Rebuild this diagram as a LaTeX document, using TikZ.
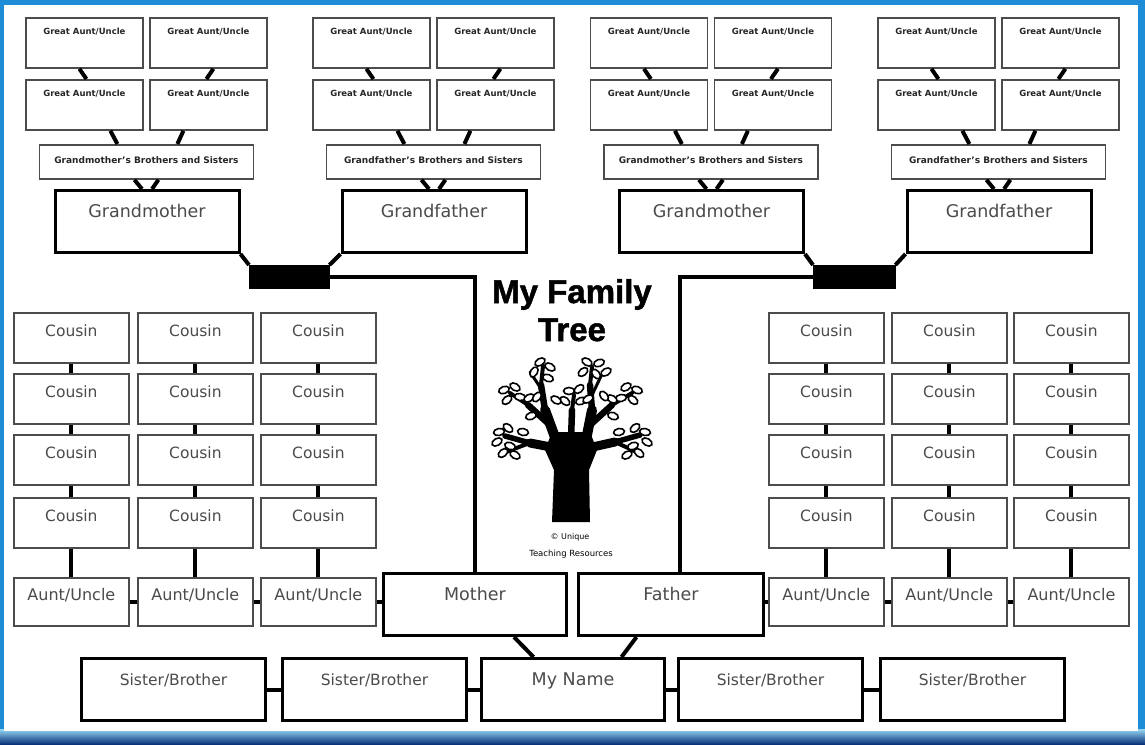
\documentclass[tikz,border=0pt]{standalone}
\usepackage{fontspec}
\setmainfont{DejaVu Sans}
\newfontfamily\titlefont{Liberation Sans}[BoldFeatures={FakeBold=1.5}]
\definecolor{frameblue}{RGB}{30,140,215}
\definecolor{framelight}{RGB}{150,215,245}
\definecolor{framedark}{RGB}{10,50,120}
\definecolor{txtgray}{RGB}{75,75,75}
\tikzset{
  boxbase/.style={inner xsep=0pt, inner ysep=0pt, anchor=north west, fill=white, align=center},
  bigbox/.style={boxbase, draw=black, line width=3pt, text height=27pt, text depth=35pt,
    font=\fontsize{17.5}{20}\selectfont, text=txtgray},
  sibbox/.style={bigbox, font=\fontsize{15.5}{18}\selectfont},
  greatbox/.style={boxbase, draw=black!70, line width=1.8pt, minimum width=117pt,
    text height=17pt, text depth=33pt, font=\bfseries\fontsize{8.5}{10}\selectfont, text=black!85},
  bsbox/.style={boxbase, draw=black!70, line width=1.8pt, minimum width=214pt,
    text height=19pt, text depth=15pt, font=\bfseries\fontsize{9}{10}\selectfont, text=black!85},
  cousinbox/.style={boxbase, draw=black!70, line width=1.8pt, minimum width=115pt,
    text height=24pt, text depth=26pt, font=\fontsize{15.5}{18}\selectfont, text=txtgray},
  auntbox/.style={cousinbox, text height=23pt, text depth=25pt, font=\fontsize{16}{18}\selectfont},
  bar/.style={fill=black, draw=black, inner sep=0pt, anchor=north west},
  conn/.style={draw=black, line width=4pt},
  branch/.style={draw=black, line cap=round, line join=round},
  leaf/.style={draw=black, fill=white, line width=1.6pt},
}
\begin{document}
\begin{tikzpicture}[x=1pt, y=-1pt]
\useasboundingbox (0,0) rectangle (1145,744);
% frame
\fill[frameblue] (0,0) rectangle (1145,744);
\shade[top color=framelight, bottom color=framedark] (0,729) rectangle (1145,744);
\fill[white] (4,5) rectangle (1138,731);

% top groups
\foreach \c/\g/\who in {145.5/a/mother, 432.5/b/father, 710/c/mother, 997.5/d/father}{
  \node[greatbox] (ga1\g) at (\c-120.5,17) {Great Aunt/Uncle};
  \node[greatbox] (ga2\g) at (\c+3.5,17) {Great Aunt/Uncle};
  \node[greatbox] (ga3\g) at (\c-120.5,79) {Great Aunt/Uncle};
  \node[greatbox] (ga4\g) at (\c+3.5,79) {Great Aunt/Uncle};
  \node[bsbox] (bs\g) at (\c-107,144) {Grand\who's Brothers and Sisters};
  \node[bigbox, minimum width=184pt] (gp\g) at (\c-92,189) {Grand\who};
  \draw[conn] ([xshift=-5pt]ga1\g.south) -- ([xshift=2pt]ga3\g.north);
  \draw[conn] ([xshift=5pt]ga2\g.south) -- ([xshift=-2pt]ga4\g.north);
  \draw[conn] ([xshift=26pt]ga3\g.south) -- ([xshift=-29pt]bs\g.north);
  \draw[conn] ([xshift=-25pt]ga4\g.south) -- ([xshift=31pt]bs\g.north);
  \draw[conn] ([xshift=-12pt]bs\g.south) -- ([xshift=-5pt]gp\g.north);
  \draw[conn] ([xshift=12pt]bs\g.south) -- ([xshift=5pt]gp\g.north);
}

% bars
\node[bar, minimum width=80pt, minimum height=23pt] (barL) at (249,265) {};
\node[bar, minimum width=82pt, minimum height=23pt] (barR) at (813,265) {};
\draw[conn] (gpa.south east) -- (barL.north west);
\draw[conn] (gpb.south west) -- (barL.north east);
\draw[conn] (gpc.south east) -- (barR.north west);
\draw[conn] (gpd.south west) -- (barR.north east);

% parents
\node[bigbox, minimum width=183pt] (mother) at (382,572) {Mother};
\node[bigbox, minimum width=185pt] (father) at (577,572) {Father};
\coordinate (ftop) at ([xshift=8.5pt]father.north);
\draw[conn] (barL.east) -| (mother.north);
\draw[conn] (barR.west) -| (ftop);

% siblings
\node[sibbox, minimum width=184pt] (sb1) at (80,657) {Sister/Brother};
\node[sibbox, minimum width=184pt] (sb2) at (281,657) {Sister/Brother};
\node[bigbox, minimum width=183pt] (me) at (480,657) {My Name};
\node[sibbox, minimum width=184pt] (sb3) at (677,657) {Sister/Brother};
\node[sibbox, minimum width=184pt] (sb4) at (879,657) {Sister/Brother};
\draw[conn] (sb1.east) -- (sb2.west);
\draw[conn] (sb2.east) -- (me.west);
\draw[conn] (me.east) -- (sb3.west);
\draw[conn] (sb3.east) -- (sb4.west);
\draw[conn] ([xshift=39pt]mother.south) -- ([xshift=-39.5pt]me.north);
\draw[conn] ([xshift=-34.5pt]father.south) -- ([xshift=48.5pt]me.north);

% cousins and aunts
\foreach \x/\k in {13/1, 137/2, 260/3, 768/4, 891/5, 1013/6}{
  \node[cousinbox] (c1\k) at (\x,312) {Cousin};
  \node[cousinbox] (c2\k) at (\x,373) {Cousin};
  \node[cousinbox] (c3\k) at (\x,434) {Cousin};
  \node[cousinbox] (c4\k) at (\x,497) {Cousin};
  \node[auntbox] (au\k) at (\x,577) {Aunt/Uncle};
  \draw[conn] (c1\k.south) -- (c2\k.north);
  \draw[conn] (c2\k.south) -- (c3\k.north);
  \draw[conn] (c3\k.south) -- (c4\k.north);
  \draw[conn] (c4\k.south) -- (au\k.north);
}
\draw[conn] (au1.east) -- (au2.west);
\draw[conn] (au2.east) -- (au3.west);
\draw[conn] (au3.east) -- (au3.east -| mother.west);
\draw[conn] (au4.west) -- (au4.west -| father.east);
\draw[conn] (au4.east) -- (au5.west);
\draw[conn] (au5.east) -- (au6.west);

% title
\node[anchor=base, inner sep=0pt, font=\titlefont\bfseries\fontsize{33}{36}\selectfont] (title1) at (572,303) {My Family};
\node[anchor=base, inner sep=0pt, font=\titlefont\bfseries\fontsize{33}{36}\selectfont] (title2) at (572,341) {Tree};

% tree
\fill[black] (552,522) -- (590,522) -- (589,470) -- (597,450) -- (590,432) -- (552,432) -- (545,450) -- (554,470) -- cycle;
% left main
\draw[branch, line width=10pt] (556,440) -- (545,410);
\draw[branch, line width=6.5pt] (545,410) -- (541,385);
\draw[branch, line width=4pt] (541,385) -- (543,366);
\draw[branch, line width=3pt] (542,390) -- (530,372);
% left horizontal
\draw[branch, line width=9pt] (556,448) -- (530,443);
\draw[branch, line width=5.5pt] (530,443) -- (505,436);
\draw[branch, line width=4pt] (527,444) -- (506,452);
% left upper
\draw[branch, line width=6.5pt] (550,425) -- (528,405);
\draw[branch, line width=4pt] (528,405) -- (510,393);
% right main
\draw[branch, line width=10pt] (586,440) -- (592,410);
\draw[branch, line width=6.5pt] (592,410) -- (590,385);
\draw[branch, line width=4pt] (590,385) -- (592,367);
\draw[branch, line width=3pt] (592,395) -- (603,372);
% right upper
\draw[branch, line width=6.5pt] (590,425) -- (612,405);
\draw[branch, line width=4pt] (612,405) -- (632,393);
% right horizontal
\draw[branch, line width=9pt] (588,448) -- (615,442);
\draw[branch, line width=5.5pt] (615,442) -- (640,435);
\draw[branch, line width=4pt] (617,443) -- (637,452);
% centre
\draw[branch, line width=6.5pt] (571,440) -- (572,410);
\draw[branch, line width=4pt] (572,410) -- (574,395);
\foreach \lx/\ly/\r in {
  540/362/30, 550/367/-30, 534/372/60, 548/378/-20,
  587/362/-30, 599/363/20, 596/374/-50, 606/372/30, 583/372/40,
  504/390/20, 515/387/-30, 507/400/40, 520/397/-10, 529/398/30,
  637/390/-20, 626/387/30, 633/400/-40, 621/398/10, 612/399/-30,
  499/432/10, 508/428/-40, 497/442/30, 510/446/-20, 503/453/40, 515/455/-30,
  645/432/-10, 635/428/40, 647/442/-30, 633/446/20, 639/453/-40, 627/455/30,
  569/391/0, 579/389/40, 565/401/-40, 581/401/20,
  537/397/50, 604/396/-50, 531/416/20, 613/416/-20, 556/400/-30, 588/399/30,
  523/432/-10, 619/432/10}{
  \draw[leaf] (\lx,\ly) circle [x radius=5.5pt, y radius=3.5pt, rotate=\r];
}
\node[anchor=base, inner sep=0pt, font=\fontsize{8}{9}\selectfont] (copy1) at (570,539) {© Unique};
\node[anchor=base, inner sep=0pt, font=\fontsize{8.5}{9}\selectfont] (copy2) at (571,556) {Teaching Resources};
\end{tikzpicture}
\end{document}
